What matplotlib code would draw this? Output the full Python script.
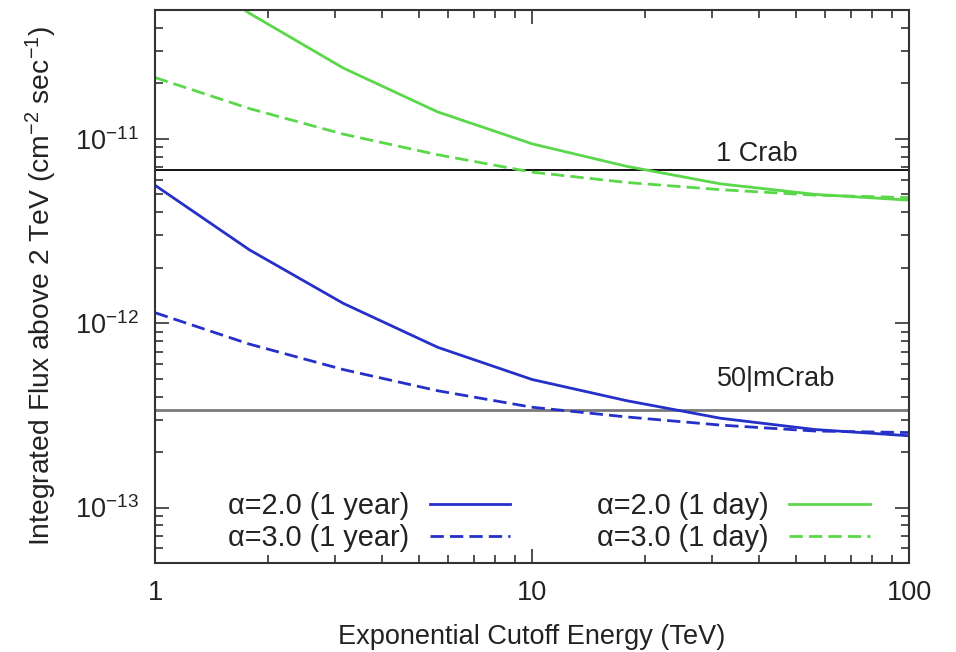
import matplotlib
matplotlib.use("Agg")
import matplotlib.pyplot as plt
from matplotlib.lines import Line2D
from matplotlib.ticker import LogLocator, NullFormatter

plt.rcParams['font.family'] = ['Liberation Sans', 'DejaVu Sans']
plt.rcParams['mathtext.fontset'] = 'custom'
plt.rcParams['mathtext.rm'] = 'Liberation Sans'
plt.rcParams['mathtext.default'] = 'regular'

# cutoff energies (TeV)
energy = [1, 1.78, 3.16, 5.62, 10, 17.8, 31.6, 56.2, 100]
# integrated flux above 2 TeV (cm^-2 s^-1)
flux_a2_year = [5.6e-12, 2.5e-12, 1.28e-12, 7.4e-13, 4.95e-13, 3.8e-13, 3.05e-13, 2.65e-13, 2.45e-13]
flux_a3_year = [1.14e-12, 7.7e-13, 5.6e-13, 4.3e-13, 3.5e-13, 3.1e-13, 2.8e-13, 2.6e-13, 2.55e-13]
flux_a2_day = [1.07e-10, 4.8e-11, 2.42e-11, 1.4e-11, 9.4e-12, 7.1e-12, 5.7e-12, 5.0e-12, 4.65e-12]
flux_a3_day = [2.15e-11, 1.46e-11, 1.06e-11, 8.2e-12, 6.6e-12, 5.8e-12, 5.3e-12, 4.95e-12, 4.8e-12]

crab = 6.8e-12
mcrab50 = 3.4e-13

xticks = [1, 10, 100]
xtick_labels = ['1', '10', '100']
yticks = [1e-13, 1e-12, 1e-11]
ytick_labels = ['10$^{-13}$', '10$^{-12}$', '10$^{-11}$']

blue = '#2430c8'
green = '#5ad84a'
fs = 19.5
fs_leg = 20.8

fig = plt.figure(figsize=(9.56, 6.52), dpi=100)
ax = fig.add_axes([155/956, 1-563/652, (909-155)/956, (563-10)/652])

ax.axhline(crab, color='black', lw=1.3, zorder=1)
ax.axhline(mcrab50, color='#7a7a7a', lw=2.0, zorder=1)

dash = (0, (4.8, 2.2))
ax.plot(energy, flux_a2_year, color=blue, lw=2.0)
ax.plot(energy, flux_a3_year, color=blue, lw=2.0, linestyle=dash)
ax.plot(energy, flux_a2_day, color=green, lw=2.0)
ax.plot(energy, flux_a3_day, color=green, lw=2.0, linestyle=dash)

ax.text(39.5, crab * 1.22, '1 Crab', fontsize=fs, ha='center', va='center', color='#222222')
ax.text(44.4, mcrab50 * 1.46, '50|mCrab', fontsize=fs, ha='center', va='center', color='#222222')

ax.set_xscale('log')
ax.set_yscale('log')
ax.set_xlim(1, 100)
ax.set_ylim(5e-14, 5e-11)

ax.set_xticks(xticks)
ax.set_xticklabels(xtick_labels)
ax.set_yticks(yticks)
ax.set_yticklabels(ytick_labels)
ax.xaxis.set_minor_locator(LogLocator(base=10, subs=range(2, 10)))
ax.xaxis.set_minor_formatter(NullFormatter())
ax.yaxis.set_minor_locator(LogLocator(base=10, subs=range(2, 10), numticks=10))
ax.yaxis.set_minor_formatter(NullFormatter())

ax.tick_params(which='both', direction='in', top=True, right=True, labelsize=fs,
               colors='#222222', width=1.1)
ax.tick_params(which='major', length=10, pad=12)
ax.tick_params(which='minor', length=5.5)
for s in ax.spines.values():
    s.set_linewidth(1.5)
    s.set_color('#333333')

ax.set_xlabel('Exponential Cutoff Energy (TeV)', fontsize=fs, labelpad=13, color='#222222')
ax.set_ylabel('Integrated Flux above 2 TeV (cm$^{-2}$ sec$^{-1}$)', fontsize=20.3,
              labelpad=11, color='#222222')

handles = [Line2D([], [], color=blue, lw=2.0),
           Line2D([], [], color=blue, lw=2.0, linestyle=dash),
           Line2D([], [], color=green, lw=2.0),
           Line2D([], [], color=green, lw=2.0, linestyle=dash)]
labels = ['α=2.0 (1 year)', 'α=3.0 (1 year)', 'α=2.0 (1 day)', 'α=3.0 (1 day)']
leg = ax.legend(handles, labels, ncol=2, markerfirst=False, frameon=False,
                fontsize=fs_leg, loc='lower left', bbox_to_anchor=(0.097, 0.02),
                borderpad=0, borderaxespad=0, handlelength=2.8, handletextpad=0.7,
                columnspacing=3.0, labelspacing=0.12)
for t in leg.get_texts():
    t.set_color('#222222')

fig.savefig('out.png', dpi=100)
